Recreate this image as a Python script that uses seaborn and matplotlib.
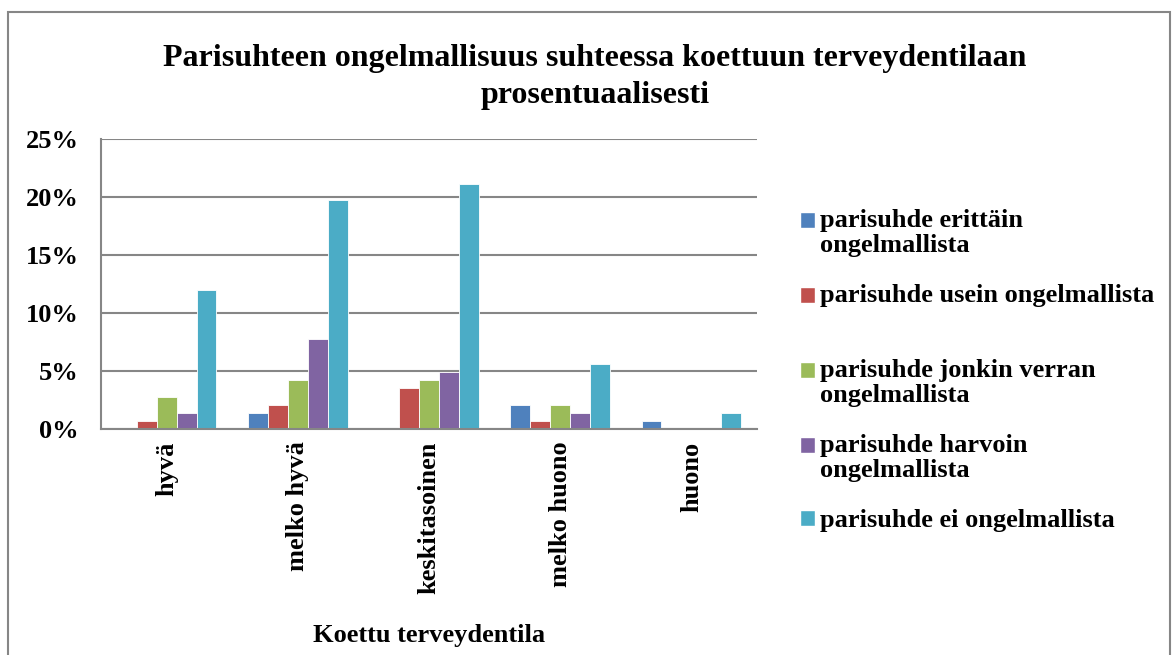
import pandas as pd
import seaborn as sns
import matplotlib.pyplot as plt
from matplotlib.patches import Rectangle, Patch
from matplotlib.legend_handler import HandlerPatch
from matplotlib.ticker import PercentFormatter

# Data (percent)
categories = ['hyvä', 'melko hyvä', 'keskitasoinen', 'melko huono', 'huono']
series = ['parisuhde erittäin ongelmallista',
          'parisuhde usein ongelmallista',
          'parisuhde jonkin verran ongelmallista',
          'parisuhde harvoin ongelmallista',
          'parisuhde ei ongelmallista']
legend_labels = ['parisuhde erittäin\nongelmallista',
                 'parisuhde usein ongelmallista\n ',
                 'parisuhde jonkin verran\nongelmallista',
                 'parisuhde harvoin\nongelmallista',
                 'parisuhde ei ongelmallista']
erittain = [0.0, 1.35, 0.0, 2.07, 0.69]
usein = [0.69, 2.07, 3.53, 0.69, 0.0]
jonkin_verran = [2.78, 4.22, 4.22, 2.07, 0.0]
harvoin = [1.35, 7.76, 4.9, 1.35, 0.0]
ei = [11.96, 19.7, 21.1, 5.6, 1.35]
colors = ['#4F81BD', '#C0504D', '#9BBB59', '#8064A2', '#4BACC6']

values = [erittain, usein, jonkin_verran, harvoin, ei]
rows = []
for s, vals in zip(series, values):
    for c, v in zip(categories, vals):
        rows.append({'cat': c, 'series': s, 'value': v})
df = pd.DataFrame(rows)

sns.set_style('white')
plt.rcParams['font.family'] = ['Liberation Serif', 'DejaVu Serif']
plt.rcParams['font.weight'] = 'bold'
for k in ['text.color', 'axes.labelcolor', 'xtick.color', 'ytick.color']:
    plt.rcParams[k] = 'black'

fig = plt.figure(figsize=(11.72, 6.55), dpi=100)
ax = fig.add_axes([101 / 1172, 1 - 429 / 655, 656 / 1172, 290 / 655])

sns.barplot(data=df, x='cat', y='value', hue='series', order=categories,
            hue_order=series, palette=colors, width=0.76, saturation=1,
            edgecolor='white', linewidth=0.6, legend=False, ax=ax)

ax.set_ylim(0, 25)
ax.set_yticks([0, 5, 10, 15, 20, 25])
ax.yaxis.set_major_formatter(PercentFormatter(decimals=0))
ax.grid(axis='y', color='#868686', linewidth=1.5)
ax.set_axisbelow(True)
for side in ['top', 'right']:
    ax.spines[side].set_visible(False)
for side in ['left', 'bottom']:
    ax.spines[side].set_color('#868686')
    ax.spines[side].set_linewidth(1.5)
ax.tick_params(axis='y', labelsize=19, length=0, pad=16)
ax.tick_params(axis='x', labelsize=19, length=0, pad=9)
ax.set_xticks(range(len(categories)))
ax.set_xticklabels(categories, rotation=90, fontweight='bold')
for t in ax.get_yticklabels():
    t.set_fontweight('bold')
ax.set_ylabel('')
ax.set_xlabel('Koettu terveydentila', fontsize=19, fontweight='bold', labelpad=22)

fig.suptitle('Parisuhteen ongelmallisuus suhteessa koettuun terveydentilaan\nprosentuaalisesti',
             x=595 / 1172, y=1 - 44 / 655, fontsize=23, fontweight='bold', linespacing=1.38)


# legend square sits on the first text line, like in the original
def top_square(legend, orig_handle, xdescent, ydescent, width, height, fontsize):
    return Rectangle((-xdescent, -ydescent + 0.5 * fontsize), width, height)


handles = [Patch(facecolor=c) for c in colors]
hmap = {h: HandlerPatch(patch_func=top_square) for h, lab in zip(handles, legend_labels)
        if '\n' in lab}
leg = fig.legend(handles, legend_labels, loc='upper left', bbox_to_anchor=(800 / 1172, 1 - 209 / 655),
                 frameon=False, prop={'size': 19, 'weight': 'bold'}, handler_map=hmap,
                 handlelength=0.55, handleheight=0.55, handletextpad=0.22, labelspacing=1.02,
                 borderaxespad=0, borderpad=0)
for t in leg.get_texts():
    t.set_linespacing(1.12)

fig.patches.append(Rectangle((8 / 1172, -0.01), 1162 / 1172, 1 - 12 / 655 + 0.01,
                             transform=fig.transFigure, fill=False,
                             edgecolor='#868686', linewidth=1.5))

fig.savefig('out.png', dpi=100)
